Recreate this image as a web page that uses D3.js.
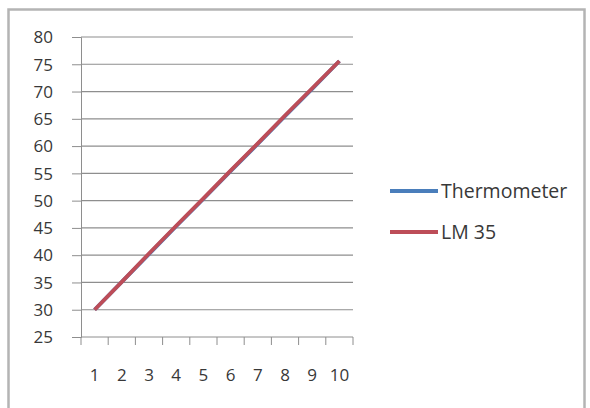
<!DOCTYPE html>
<html>
<head>
<meta charset="utf-8">
<script src="https://cdn.jsdelivr.net/npm/d3@7"></script>
<style>
  body { margin: 0; background: #fff; }
  text { font-family: "Open Sans", sans-serif; fill: #383838; }
</style>
</head>
<body>
<div id="chart"></div>
<script>
const width = 590, height = 408;

// data
const categories = ["1", "2", "3", "4", "5", "6", "7", "8", "9", "10"];
const thermometer = [30, 35.1, 40.2, 45.3, 50.3, 55.4, 60.4, 65.5, 70.5, 75.6];
const lm35 = [30, 35.1, 40.3, 45.4, 50.4, 55.5, 60.5, 65.6, 70.6, 75.6];
const yTicks = [25, 30, 35, 40, 45, 50, 55, 60, 65, 70, 75, 80];
const seriesNames = ["Thermometer", "LM 35"];
const seriesColors = ["#4a7ebb", "#bd4d58"];

const svg = d3.select("#chart").append("svg")
	.attr("width", width)
	.attr("height", height);

// chart frame
svg.append("rect")
	.attr("x", 8.5).attr("y", 9.5)
	.attr("width", 576).attr("height", 430)
	.attr("fill", "#fff")
	.attr("stroke", "#b4b4b4")
	.attr("stroke-width", 2.5);

const plot = { left: 81, right: 353, top: 37, bottom: 337 };

const x = d3.scaleBand()
	.domain(categories)
	.range([plot.left, plot.right]);

const y = d3.scaleLinear()
	.domain([25, 80])
	.range([plot.bottom, plot.top]);

// gridlines
svg.append("g")
	.selectAll("line")
	.data(yTicks.filter(d => d !== 25))
	.join("line")
	.attr("x1", plot.left).attr("x2", plot.right)
	.attr("y1", d => y(d)).attr("y2", d => y(d))
	.attr("stroke", "#8e8e8e")
	.attr("stroke-width", 1.2);

// y axis
const yAxis = svg.append("g")
	.attr("transform", `translate(${plot.left},0)`)
	.call(d3.axisLeft(y).tickValues(yTicks).tickSize(9).tickPadding(19));
yAxis.select(".domain").attr("stroke", "#8e8e8e");
yAxis.selectAll(".tick line").attr("stroke", "#8e8e8e");
yAxis.selectAll("text")
	.style("font-size", "17px")
	.attr("fill", "#383838")
	.attr("dy", "0.34em");

// x axis, ticks at band edges
const xAxis = svg.append("g")
	.attr("transform", `translate(0,${plot.bottom})`);
xAxis.append("line")
	.attr("x1", plot.left).attr("x2", plot.right)
	.attr("stroke", "#8e8e8e");
xAxis.selectAll(".edge")
	.data(categories.concat(["end"]))
	.join("line")
	.attr("class", "edge")
	.attr("x1", (d, i) => i < categories.length ? x(d) : x.range()[1])
	.attr("x2", (d, i) => i < categories.length ? x(d) : x.range()[1])
	.attr("y1", 0).attr("y2", 8)
	.attr("stroke", "#8e8e8e");
xAxis.selectAll("text")
	.data(categories)
	.join("text")
	.attr("x", d => x(d) + x.bandwidth() / 2)
	.attr("y", 38)
	.attr("text-anchor", "middle")
	.attr("dy", "0.34em")
	.style("font-size", "17px")
	.text(d => d);

// lines
const line = d3.line()
	.x((d, i) => x(categories[i]) + x.bandwidth() / 2)
	.y(d => y(d));

[thermometer, lm35].forEach((values, i) => {
	svg.append("path")
		.datum(values)
		.attr("fill", "none")
		.attr("stroke", seriesColors[i])
		.attr("stroke-width", 3.8)
		.attr("stroke-linejoin", "round")
		.attr("d", line);
});

// legend
const legend = svg.append("g")
	.selectAll("g")
	.data(seriesNames)
	.join("g")
	.attr("transform", (d, i) => `translate(390,${191 + i * 41})`);
legend.append("line")
	.attr("x1", 0).attr("x2", 48)
	.attr("stroke", (d, i) => seriesColors[i])
	.attr("stroke-width", 3.8);
legend.append("text")
	.attr("x", 51)
	.attr("dy", "0.36em")
	.style("font-size", "19.5px")
	.text(d => d);
</script>
</body>
</html>
